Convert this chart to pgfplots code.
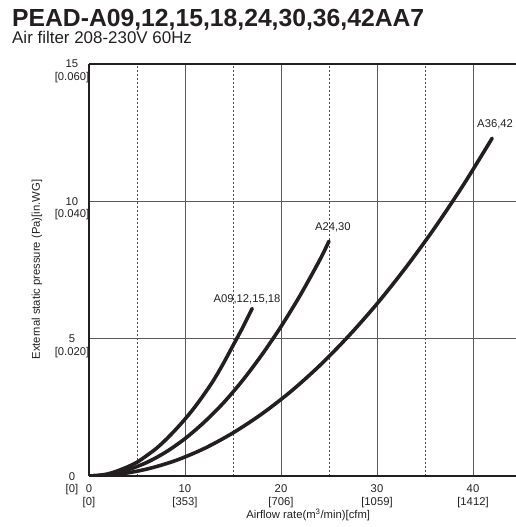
\documentclass[border=0pt]{standalone}
\usepackage{fontspec}
\setmainfont{Liberation Sans}
\usepackage{pgfplots}
\pgfplotsset{compat=1.18}
\definecolor{ink}{HTML}{231F20}
\newcommand\sm{\fontsize{11.3}{12.5}\selectfont}
\begin{document}
\begin{tikzpicture}
\useasboundingbox (-89bp,-51bp) rectangle (427bp,476bp);
\begin{axis}[
  at={(0,0)}, anchor=south west,
  scale only axis, width=427.2bp, height=412bp,
  xmin=0, xmax=44.5, ymin=0, ymax=15,
  axis x line*=bottom, axis y line*=left,
  x axis line style={line width=1.8bp, color=ink, -},
  y axis line style={line width=1.5bp, color=ink, -},
  xtick={0,10,20,30,40},
  xticklabels={{0\\{}[0]},{10\\{}[353]},{20\\{}[706]},{30\\{}[1059]},{40\\{}[1412]}},
  minor xtick={5,15,25,35},
  ytick={0,5,10,15},
  yticklabels={{0\\{}[0]},{5\\{}[0.020]},{10\\{}[0.040]},{15\\{}[0.060]}},
  xmajorgrids, xminorgrids, ymajorgrids,
  major grid style={line width=0.8bp, color=black!65},
  minor grid style={line width=0.8bp, color=black!70, dash pattern=on 2bp off 2bp},
  major tick length=0pt, minor tick length=0pt,
  tick style={draw=none},
  xticklabel style={align=center, font=\sm, anchor=north, yshift=-5.5bp, text=ink},
  yticklabel style={align=center, font=\sm, anchor=center, yshift=-7.5bp, xshift=-17bp, text=ink},
  xlabel={Airflow rate(m\textsuperscript{3}/min)[cfm]},
  xlabel style={at={(rel axis cs:0.513,0)}, anchor=base, yshift=-42bp, font=\sm, text=ink},
  ylabel={External static pressure (Pa)[in.WG]},
  ylabel style={at={(rel axis cs:-0.1218,0.501)}, anchor=center, font=\sm, text=ink},
]
\draw[line width=1.8bp, ink] (rel axis cs:0,1) -- (rel axis cs:1,1);
\addplot[ink, line width=3.6bp, smooth, line cap=round] coordinates {
 (0,0) (1,0.02) (2,0.08) (3,0.19) (4,0.33) (5,0.5) (6,0.74) (7,1.0) (8,1.32) (9,1.68)
 (10,2.07) (11,2.5) (12,2.98) (13,3.5) (14,4.1) (15,4.75) (16,5.4) (17,6.1)};
\addplot[ink, line width=3.6bp, smooth, line cap=round] coordinates {
 (0,0) (2,0.05) (4,0.22) (6,0.49) (8,0.87) (10,1.36) (12,1.96) (14,2.66) (16,3.48)
 (18,4.41) (20,5.44) (22,6.58) (24,7.84) (25,8.55)};
\addplot[ink, line width=3.6bp, smooth, line cap=round] coordinates {
 (0,0) (3,0.06) (6,0.25) (9,0.56) (12,1.0) (15,1.57) (18,2.26) (21,3.07) (24,4.01)
 (27,5.08) (30,6.27) (33,7.59) (36,9.03) (39,10.6) (42,12.3)};
\node[font=\sm, text=ink, anchor=base] at (axis cs:16.46,6.33) {A09,12,15,18};
\node[font=\sm, text=ink, anchor=base] at (axis cs:25.4,8.92) {A24,30};
\node[font=\sm, text=ink, anchor=base] at (axis cs:42.3,12.7) {A36,42};
\end{axis}
\node[anchor=base west, inner sep=0pt, font=\fontsize{24.8}{28}\selectfont\bfseries, text=ink] at (-77bp,449bp) {PEAD-A09,12,15,18,24,30,36,42AA7};
\node[anchor=base west, inner sep=0pt, font=\fontsize{17}{19}\selectfont, text=ink] at (-77bp,432bp) {Air filter 208-230V 60Hz};
\end{tikzpicture}
\end{document}
